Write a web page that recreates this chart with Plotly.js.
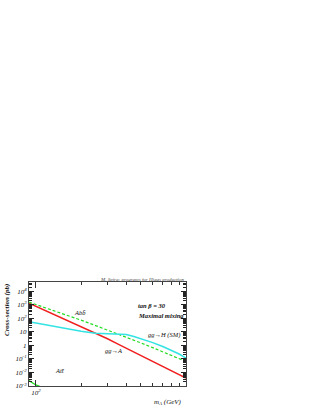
<!DOCTYPE html>
<html>
<head>
<meta charset="utf-8">
<script src="https://cdn.plot.ly/plotly-3.0.1.min.js"></script>
<style>
  html, body { margin: 0; padding: 0; background: #fff; }
  #grafico { width: 322px; height: 417px; }
</style>
</head>
<body>
<div id="grafico"></div>
<script>
// Cross sections of the pseudoscalar A, tan(beta) = 30, maximal mixing
// values (pb)

const massas = [90, 100, 120, 150, 200, 250, 300, 350, 400, 450, 500, 600, 700, 800, 900, 1000];

const sigmaGgA = [1300, 770, 310, 103, 25, 8.0, 3.1, 1.3, 0.62, 0.33, 0.18, 0.065, 0.028, 0.013, 0.0069, 0.0038];
const sigmaAbb = [1550, 1050, 530, 228, 73, 29, 13.8, 7.3, 4.1, 2.45, 1.52, 0.68, 0.34, 0.18, 0.107, 0.064];
const sigmaGgH = [55, 44, 30, 18.5, 11, 8.0, 7.3, 7.0, 6.3, 4.5, 3.2, 1.6, 0.82, 0.42, 0.23, 0.115];

const massasAtt = [90, 95, 100, 106];
const sigmaAtt = [0.0025, 0.0017, 0.0012, 0.00095];

const yTickVals = [1e-3, 1e-2, 1e-1, 1, 10, 1e2, 1e3, 1e4];
const yTickText = ["10<sup>-3</sup>", "10<sup>-2</sup>", "10<sup>-1</sup>", "1", "10",
                   "10<sup>2</sup>", "10<sup>3</sup>", "10<sup>4</sup>"];
const xTickVals = [100];
const xTickText = ["10<sup>2</sup>"];

// minor ticks 2..9 of each decade
const yMenores = [];
for (let e = -3; e <= 4; e++) {
  for (let k = 2; k <= 9; k++) yMenores.push(k * Math.pow(10, e));
}
const xMenores = [90, 200, 300, 400, 500, 600, 700, 800, 900, 1000];

const fonte = "Liberation Serif, Times New Roman, serif";

const data = [
  {
    x: massas, y: sigmaGgA, type: "scatter", mode: "lines", name: "gg→A",
    line: { color: "#f02020", width: 1.5 }
  },
  {
    x: massas, y: sigmaAbb, type: "scatter", mode: "lines", name: "Abb̄",
    line: { color: "#22dd22", width: 1.2, dash: "3px,2px" }
  },
  {
    x: massas, y: sigmaGgH, type: "scatter", mode: "lines", name: "gg→H (SM)",
    line: { color: "#33e3e3", width: 1.5 }
  },
  {
    x: massasAtt, y: sigmaAtt, type: "scatter", mode: "lines", name: "Att̄",
    line: { color: "#22dd22", width: 1.3 }
  }
];

function txt(texto, x, y, extra) {
  return Object.assign({
    text: texto, x: x, y: y, xref: "x", yref: "y",
    xanchor: "left", yanchor: "middle", showarrow: false,
    font: { family: fonte, size: 6.5, color: "#111", style: "italic" }
  }, extra || {});
}

const negrito = { family: fonte, size: 6.5, color: "#111", style: "italic", weight: "bold" };

const layout = {
  width: 322,
  height: 417,
  margin: { l: 29, r: 136, t: 282, b: 31 },
  paper_bgcolor: "#fff",
  plot_bgcolor: "#fff",
  showlegend: false,
  xaxis: {
    type: "log",
    range: [Math.log10(90), 3],
    tickvals: xTickVals,
    ticktext: xTickText,
    ticks: "inside",
    ticklen: 6,
    tickcolor: "#333",
    showline: true,
    linecolor: "#444",
    linewidth: 1,
    mirror: "allticks",
    showgrid: false,
    zeroline: false,
    tickfont: { family: fonte, size: 7, color: "#111", style: "italic" },
    minor: { tickvals: xMenores, ticks: "inside", ticklen: 3, tickcolor: "#333", showgrid: false }
  },
  yaxis: {
    type: "log",
    range: [-3, 4.68],
    tickvals: yTickVals,
    ticktext: yTickText,
    ticks: "inside",
    ticklen: 5,
    tickcolor: "#222",
    showline: true,
    linecolor: "#444",
    linewidth: 1,
    mirror: "allticks",
    showgrid: false,
    zeroline: false,
    tickfont: { family: fonte, size: 7, color: "#111", style: "italic" },
    minor: { tickvals: yMenores, ticks: "inside", ticklen: 3, tickcolor: "#222", showgrid: false }
  },
  annotations: [
    {
      text: "M. Spira: programs for Higgs production",
      xref: "paper", yref: "paper", x: 1, y: 1,
      xanchor: "right", yanchor: "bottom", yshift: -2, showarrow: false,
      font: { family: fonte, size: 5, color: "#444", style: "italic" }
    },
    {
      text: "Cross-section (pb)",
      xref: "paper", yref: "paper", x: -0.14, y: 1,
      xanchor: "center", yanchor: "top", textangle: -90, showarrow: false,
      font: { family: fonte, size: 7, color: "#111", style: "italic", weight: "bold" }
    },
    {
      text: "m<sub>A</sub> (GeV)",
      xref: "paper", yref: "paper", x: 0.99, y: -0.15,
      xanchor: "right", yanchor: "middle", showarrow: false,
      font: { family: fonte, size: 7, color: "#111", style: "italic" }
    },
    txt("tan β = 30", Math.log10(465), 2.97, { font: negrito }),
    txt("Maximal mixing", Math.log10(465), 2.23, { font: negrito }),
    txt("gg→H (SM)", 1, 0.74, { xref: "paper", xanchor: "right", xshift: -4 }),
    txt("gg→A", Math.log10(280), -0.35),
    txt("Abb̄", Math.log10(173), 2.40),
    txt("Att̄", Math.log10(130), -1.82)
  ]
};

const config = { staticPlot: true, displayModeBar: false };

Plotly.newPlot("grafico", data, layout, config);
</script>
</body>
</html>
